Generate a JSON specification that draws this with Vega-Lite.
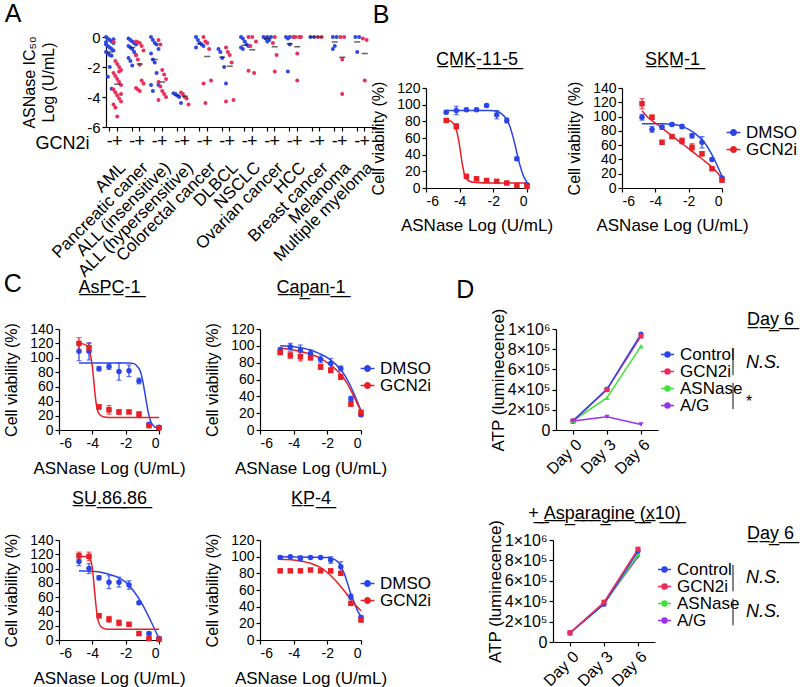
{
"$schema": "https://vega.github.io/schema/vega-lite/v6.json",
"background": "white",
"padding": {"left": 3, "top": 2, "right": 2, "bottom": 2},
"config": {
 "font": "Liberation Sans",
 "view": {"stroke": null},
 "axis": {"grid": false, "domainColor": "#000", "tickColor": "#000", "labelColor": "#000", "titleColor": "#000", "labelFontSize": 14, "titleFontSize": 16, "titleFontWeight": "normal", "tickSize": 4, "labelPadding": 2, "domainWidth": 1.2, "tickWidth": 1.2},
 "legend": {"labelFontSize": 17, "labelColor": "#000", "symbolOpacity": 1},
 "title": {"fontWeight": "normal", "color": "#000", "fontSize": 25}
},
"datasets": {
 "A": [
  {"c":"1-","g":"-","j":"a","v":0},{"c":"1-","g":"-","j":"b","v":-0.1},{"c":"1-","g":"-","j":"c","v":-0.2},{"c":"1-","g":"-","j":"d","v":-0.3},{"c":"1-","g":"-","j":"e","v":-0.4},{"c":"1-","g":"-","j":"a","v":-0.5},{"c":"1-","g":"-","j":"b","v":-0.6},{"c":"1-","g":"-","j":"c","v":-0.7},{"c":"1-","g":"-","j":"d","v":-0.8},{"c":"1-","g":"-","j":"e","v":-0.9},{"c":"1-","g":"-","j":"a","v":-1.0},{"c":"1-","g":"-","j":"b","v":-1.1},{"c":"1-","g":"-","j":"c","v":-1.2},{"c":"1-","g":"-","j":"d","v":-1.25},{"c":"1-","g":"-","j":"e","v":-0.15},{"c":"1-","g":"-","j":"a","v":-0.35},{"c":"1-","g":"-","j":"c","v":-2.0},{"c":"1-","g":"-","j":"b","v":-2.65},{"c":"1-","g":"-","j":"d","v":-3.45},
  {"c":"1+","g":"+","j":"a","v":-0.33},{"c":"1+","g":"+","j":"b","v":-1.6},{"c":"1+","g":"+","j":"c","v":-1.8},{"c":"1+","g":"+","j":"d","v":-2.0},{"c":"1+","g":"+","j":"e","v":-2.2},{"c":"1+","g":"+","j":"a","v":-2.4},{"c":"1+","g":"+","j":"b","v":-2.6},{"c":"1+","g":"+","j":"c","v":-2.8},{"c":"1+","g":"+","j":"d","v":-3.0},{"c":"1+","g":"+","j":"e","v":-3.2},{"c":"1+","g":"+","j":"a","v":-3.5},{"c":"1+","g":"+","j":"b","v":-3.7},{"c":"1+","g":"+","j":"c","v":-3.9},{"c":"1+","g":"+","j":"d","v":-4.1},{"c":"1+","g":"+","j":"e","v":-4.3},{"c":"1+","g":"+","j":"a","v":-4.5},{"c":"1+","g":"+","j":"b","v":-4.7},{"c":"1+","g":"+","j":"c","v":-5.3},{"c":"1+","g":"+","j":"d","v":-2.3},{"c":"1+","g":"+","j":"e","v":-3.8},
  {"c":"2-","g":"-","j":"a","v":-0.1},{"c":"2-","g":"-","j":"b","v":-0.2},{"c":"2-","g":"-","j":"c","v":-0.3},{"c":"2-","g":"-","j":"d","v":-0.4},{"c":"2-","g":"-","j":"e","v":-0.5},{"c":"2-","g":"-","j":"a","v":-0.6},{"c":"2-","g":"-","j":"b","v":-0.7},{"c":"2-","g":"-","j":"c","v":-0.8},{"c":"2-","g":"-","j":"d","v":-1.0},{"c":"2-","g":"-","j":"e","v":-1.2},{"c":"2-","g":"-","j":"a","v":-1.4},{"c":"2-","g":"-","j":"b","v":-1.6},{"c":"2-","g":"-","j":"c","v":-1.9},
  {"c":"2+","g":"+","j":"a","v":-0.3},{"c":"2+","g":"+","j":"b","v":-0.35},{"c":"2+","g":"+","j":"c","v":-0.4},{"c":"2+","g":"+","j":"d","v":-0.6},{"c":"2+","g":"+","j":"e","v":-0.9},{"c":"2+","g":"+","j":"a","v":-1.2},{"c":"2+","g":"+","j":"b","v":-1.5},{"c":"2+","g":"+","j":"c","v":-1.85},{"c":"2+","g":"+","j":"d","v":-2.9},{"c":"2+","g":"+","j":"e","v":-3.1},{"c":"2+","g":"+","j":"a","v":-3.4},{"c":"2+","g":"+","j":"b","v":-3.5},{"c":"2+","g":"+","j":"c","v":-3.6},
  {"c":"3-","g":"-","j":"a","v":0},{"c":"3-","g":"-","j":"b","v":-0.2},{"c":"3-","g":"-","j":"c","v":-0.4},{"c":"3-","g":"-","j":"d","v":-0.5},{"c":"3-","g":"-","j":"e","v":-0.8},{"c":"3-","g":"-","j":"a","v":-1.1},{"c":"3-","g":"-","j":"b","v":-1.5},{"c":"3-","g":"-","j":"c","v":-1.7},{"c":"3-","g":"-","j":"d","v":-2.4},{"c":"3-","g":"-","j":"e","v":-3.2},{"c":"3-","g":"-","j":"a","v":-3.2},{"c":"3-","g":"-","j":"b","v":-3.6},
  {"c":"3+","g":"+","j":"a","v":-0.2},{"c":"3+","g":"+","j":"b","v":-0.5},{"c":"3+","g":"+","j":"c","v":-2.2},{"c":"3+","g":"+","j":"d","v":-2.5},{"c":"3+","g":"+","j":"e","v":-2.8},{"c":"3+","g":"+","j":"a","v":-3.0},{"c":"3+","g":"+","j":"b","v":-3.3},{"c":"3+","g":"+","j":"c","v":-3.6},{"c":"3+","g":"+","j":"d","v":-3.8},{"c":"3+","g":"+","j":"e","v":-4.0},{"c":"3+","g":"+","j":"a","v":-4.2},
  {"c":"4-","g":"-","j":"a","v":-3.75},{"c":"4-","g":"-","j":"b","v":-3.8},{"c":"4-","g":"-","j":"c","v":-3.9},{"c":"4-","g":"-","j":"d","v":-4.0},{"c":"4-","g":"-","j":"e","v":-4.4},
  {"c":"4+","g":"+","j":"a","v":-3.7},{"c":"4+","g":"+","j":"b","v":-3.8},{"c":"4+","g":"+","j":"c","v":-4.0},{"c":"4+","g":"+","j":"d","v":-4.1},{"c":"4+","g":"+","j":"e","v":-4.5},
  {"c":"5-","g":"-","j":"a","v":0},{"c":"5-","g":"-","j":"b","v":-0.2},{"c":"5-","g":"-","j":"c","v":-0.4},{"c":"5-","g":"-","j":"d","v":-0.5},{"c":"5-","g":"-","j":"e","v":-0.6},{"c":"5-","g":"-","j":"a","v":-0.7},
  {"c":"5+","g":"+","j":"a","v":0},{"c":"5+","g":"+","j":"b","v":-0.3},{"c":"5+","g":"+","j":"c","v":-0.4},{"c":"5+","g":"+","j":"d","v":-0.8},{"c":"5+","g":"+","j":"e","v":-2.9},{"c":"5+","g":"+","j":"a","v":-3.1},{"c":"5+","g":"+","j":"b","v":-4.4},
  {"c":"6-","g":"-","j":"a","v":-0.8},{"c":"6-","g":"-","j":"b","v":-1.0},{"c":"6-","g":"-","j":"c","v":-1.4},{"c":"6-","g":"-","j":"d","v":-2.0},{"c":"6-","g":"-","j":"e","v":-3.1},
  {"c":"6+","g":"+","j":"a","v":-0.7},{"c":"6+","g":"+","j":"b","v":-1.0},{"c":"6+","g":"+","j":"c","v":-1.2},{"c":"6+","g":"+","j":"d","v":-1.7},{"c":"6+","g":"+","j":"e","v":-4.2},{"c":"6+","g":"+","j":"a","v":-4.3},
  {"c":"7-","g":"-","j":"a","v":0},{"c":"7-","g":"-","j":"b","v":-0.1},{"c":"7-","g":"-","j":"c","v":-0.3},{"c":"7-","g":"-","j":"d","v":-0.5},{"c":"7-","g":"-","j":"e","v":-0.6},{"c":"7-","g":"-","j":"a","v":-0.7},{"c":"7-","g":"-","j":"b","v":-0.8},
  {"c":"7+","g":"+","j":"a","v":0},{"c":"7+","g":"+","j":"c","v":0},{"c":"7+","g":"+","j":"e","v":-0.3},{"c":"7+","g":"+","j":"b","v":-0.6},{"c":"7+","g":"+","j":"a","v":-2.25},{"c":"7+","g":"+","j":"d","v":-2.4},
  {"c":"8-","g":"-","j":"a","v":0},{"c":"8-","g":"-","j":"c","v":0},{"c":"8-","g":"-","j":"e","v":0},{"c":"8-","g":"-","j":"b","v":-0.1},{"c":"8-","g":"-","j":"d","v":-0.2},{"c":"8-","g":"-","j":"c","v":-0.3},
  {"c":"8+","g":"+","j":"c","v":0},{"c":"8+","g":"+","j":"b","v":-0.4},{"c":"8+","g":"+","j":"d","v":-1.2},{"c":"8+","g":"+","j":"c","v":-2.3},
  {"c":"9-","g":"-","j":"a","v":0},{"c":"9-","g":"-","j":"c","v":0},{"c":"9-","g":"-","j":"e","v":0},{"c":"9-","g":"-","j":"b","v":-0.1},{"c":"9-","g":"-","j":"c","v":-0.5},{"c":"9-","g":"-","j":"b","v":-2.3},
  {"c":"9+","g":"+","j":"a","v":0},{"c":"9+","g":"+","j":"b","v":0},{"c":"9+","g":"+","j":"d","v":0},{"c":"9+","g":"+","j":"e","v":0},{"c":"9+","g":"+","j":"c","v":-1.1},{"c":"9+","g":"+","j":"c","v":-2.9},
  {"c":"10-","g":"-","j":"b","v":0},{"c":"10-","g":"-","j":"d","v":0},
  {"c":"10+","g":"+","j":"b","v":0},{"c":"10+","g":"+","j":"d","v":0},
  {"c":"11-","g":"-","j":"b","v":0},{"c":"11-","g":"-","j":"d","v":0},{"c":"11-","g":"-","j":"c","v":-0.6},{"c":"11-","g":"-","j":"b","v":-0.8},
  {"c":"11+","g":"+","j":"b","v":0},{"c":"11+","g":"+","j":"d","v":0},{"c":"11+","g":"+","j":"c","v":-1.5},{"c":"11+","g":"+","j":"c","v":-3.8},
  {"c":"12-","g":"-","j":"b","v":0},{"c":"12-","g":"-","j":"d","v":0},{"c":"12-","g":"-","j":"c","v":-1.0},
  {"c":"12+","g":"+","j":"b","v":-0.1},{"c":"12+","g":"+","j":"d","v":-0.2},{"c":"12+","g":"+","j":"c","v":-2.9}
 ],
 "Amed": [
  {"c":"1-","v":-1.0},{"c":"1+","v":-3.15},{"c":"2-","v":-0.7},{"c":"2+","v":-1.8},{"c":"3-","v":-1.5},{"c":"3+","v":-3.0},{"c":"4-","v":-3.9},{"c":"4+","v":-3.95},{"c":"5-","v":-0.45},{"c":"5+","v":-1.3},{"c":"6-","v":-1.35},{"c":"6+","v":-1.95},{"c":"7-","v":-0.55},{"c":"7+","v":-0.85},{"c":"8-","v":-0.1},{"c":"8+","v":-0.65},{"c":"9-","v":-0.45},{"c":"9+","v":-0.65},{"c":"10-","v":0},{"c":"10+","v":0},{"c":"11-","v":-0.33},{"c":"11+","v":-1.35},{"c":"12-","v":-0.33},{"c":"12+","v":-1.1}
 ],
 "viab": [
  {"cell":"CMK-11-5","g":"DMSO","x":-4.8,"v":91,"e":2},{"cell":"CMK-11-5","g":"DMSO","x":-4.2,"v":93,"e":5},{"cell":"CMK-11-5","g":"DMSO","x":-3.6,"v":94,"e":1.5},{"cell":"CMK-11-5","g":"DMSO","x":-3.0,"v":94,"e":1.5},{"cell":"CMK-11-5","g":"DMSO","x":-2.4,"v":99,"e":1.5},{"cell":"CMK-11-5","g":"DMSO","x":-1.8,"v":88,"e":5},{"cell":"CMK-11-5","g":"DMSO","x":-1.2,"v":81,"e":3},{"cell":"CMK-11-5","g":"DMSO","x":-0.6,"v":35,"e":2},{"cell":"CMK-11-5","g":"DMSO","x":0,"v":4,"e":1.5},
  {"cell":"CMK-11-5","g":"GCN2i","x":-4.8,"v":81,"e":2},{"cell":"CMK-11-5","g":"GCN2i","x":-4.2,"v":74,"e":3},{"cell":"CMK-11-5","g":"GCN2i","x":-3.6,"v":14,"e":2},{"cell":"CMK-11-5","g":"GCN2i","x":-3.0,"v":11,"e":2},{"cell":"CMK-11-5","g":"GCN2i","x":-2.4,"v":9,"e":1.5},{"cell":"CMK-11-5","g":"GCN2i","x":-1.8,"v":8,"e":1.5},{"cell":"CMK-11-5","g":"GCN2i","x":-1.2,"v":6,"e":1.5},{"cell":"CMK-11-5","g":"GCN2i","x":-0.6,"v":3,"e":1.5},{"cell":"CMK-11-5","g":"GCN2i","x":0,"v":2,"e":1.5},
  {"cell":"SKM-1","g":"DMSO","x":-4.8,"v":99,"e":4},{"cell":"SKM-1","g":"DMSO","x":-4.2,"v":82,"e":4},{"cell":"SKM-1","g":"DMSO","x":-3.6,"v":85,"e":3},{"cell":"SKM-1","g":"DMSO","x":-3.0,"v":89,"e":2},{"cell":"SKM-1","g":"DMSO","x":-2.4,"v":86,"e":3},{"cell":"SKM-1","g":"DMSO","x":-1.8,"v":73,"e":3},{"cell":"SKM-1","g":"DMSO","x":-1.2,"v":64,"e":8},{"cell":"SKM-1","g":"DMSO","x":-0.6,"v":40,"e":2},{"cell":"SKM-1","g":"DMSO","x":0,"v":14,"e":2},
  {"cell":"SKM-1","g":"GCN2i","x":-4.8,"v":118,"e":7},{"cell":"SKM-1","g":"GCN2i","x":-4.2,"v":99,"e":3},{"cell":"SKM-1","g":"GCN2i","x":-3.6,"v":64,"e":2},{"cell":"SKM-1","g":"GCN2i","x":-3.0,"v":72,"e":2},{"cell":"SKM-1","g":"GCN2i","x":-2.4,"v":66,"e":4},{"cell":"SKM-1","g":"GCN2i","x":-1.8,"v":57,"e":5},{"cell":"SKM-1","g":"GCN2i","x":-1.2,"v":48,"e":3},{"cell":"SKM-1","g":"GCN2i","x":-0.6,"v":27,"e":2},{"cell":"SKM-1","g":"GCN2i","x":0,"v":11,"e":2},
  {"cell":"AsPC-1","g":"DMSO","x":-4.8,"v":109,"e":13},{"cell":"AsPC-1","g":"DMSO","x":-4.2,"v":109,"e":12},{"cell":"AsPC-1","g":"DMSO","x":-3.6,"v":85,"e":3},{"cell":"AsPC-1","g":"DMSO","x":-3.0,"v":88,"e":4},{"cell":"AsPC-1","g":"DMSO","x":-2.4,"v":81,"e":12},{"cell":"AsPC-1","g":"DMSO","x":-1.8,"v":82,"e":8},{"cell":"AsPC-1","g":"DMSO","x":-1.2,"v":68,"e":4},{"cell":"AsPC-1","g":"DMSO","x":-0.6,"v":8,"e":2},{"cell":"AsPC-1","g":"DMSO","x":0,"v":4,"e":2},
  {"cell":"AsPC-1","g":"GCN2i","x":-4.8,"v":120,"e":8},{"cell":"AsPC-1","g":"GCN2i","x":-4.2,"v":114,"e":6},{"cell":"AsPC-1","g":"GCN2i","x":-3.6,"v":32,"e":3},{"cell":"AsPC-1","g":"GCN2i","x":-3.0,"v":28,"e":6},{"cell":"AsPC-1","g":"GCN2i","x":-2.4,"v":25,"e":3},{"cell":"AsPC-1","g":"GCN2i","x":-1.8,"v":25,"e":2},{"cell":"AsPC-1","g":"GCN2i","x":-1.2,"v":22,"e":3},{"cell":"AsPC-1","g":"GCN2i","x":-0.6,"v":6,"e":2},{"cell":"AsPC-1","g":"GCN2i","x":0,"v":3,"e":2},
  {"cell":"Capan-1","g":"DMSO","x":-4.8,"v":95,"e":3},{"cell":"Capan-1","g":"DMSO","x":-4.2,"v":99,"e":4},{"cell":"Capan-1","g":"DMSO","x":-3.6,"v":95,"e":6},{"cell":"Capan-1","g":"DMSO","x":-3.0,"v":91,"e":4},{"cell":"Capan-1","g":"DMSO","x":-2.4,"v":84,"e":4},{"cell":"Capan-1","g":"DMSO","x":-1.8,"v":79,"e":6},{"cell":"Capan-1","g":"DMSO","x":-1.2,"v":73,"e":3},{"cell":"Capan-1","g":"DMSO","x":-0.6,"v":37,"e":3},{"cell":"Capan-1","g":"DMSO","x":0,"v":18,"e":2},
  {"cell":"Capan-1","g":"GCN2i","x":-4.8,"v":92,"e":2},{"cell":"Capan-1","g":"GCN2i","x":-4.2,"v":89,"e":4},{"cell":"Capan-1","g":"GCN2i","x":-3.6,"v":87,"e":5},{"cell":"Capan-1","g":"GCN2i","x":-3.0,"v":86,"e":3},{"cell":"Capan-1","g":"GCN2i","x":-2.4,"v":75,"e":3},{"cell":"Capan-1","g":"GCN2i","x":-1.8,"v":71,"e":3},{"cell":"Capan-1","g":"GCN2i","x":-1.2,"v":63,"e":3},{"cell":"Capan-1","g":"GCN2i","x":-0.6,"v":31,"e":3},{"cell":"Capan-1","g":"GCN2i","x":0,"v":21,"e":2},
  {"cell":"SU.86.86","g":"DMSO","x":-4.8,"v":110,"e":6},{"cell":"SU.86.86","g":"DMSO","x":-4.2,"v":100,"e":7},{"cell":"SU.86.86","g":"DMSO","x":-3.6,"v":87,"e":3},{"cell":"SU.86.86","g":"DMSO","x":-3.0,"v":81,"e":9},{"cell":"SU.86.86","g":"DMSO","x":-2.4,"v":81,"e":7},{"cell":"SU.86.86","g":"DMSO","x":-1.8,"v":77,"e":6},{"cell":"SU.86.86","g":"DMSO","x":-1.2,"v":52,"e":2},{"cell":"SU.86.86","g":"DMSO","x":-0.6,"v":9,"e":2},{"cell":"SU.86.86","g":"DMSO","x":0,"v":2,"e":2},
  {"cell":"SU.86.86","g":"GCN2i","x":-4.8,"v":118,"e":5},{"cell":"SU.86.86","g":"GCN2i","x":-4.2,"v":117,"e":6},{"cell":"SU.86.86","g":"GCN2i","x":-3.6,"v":34,"e":3},{"cell":"SU.86.86","g":"GCN2i","x":-3.0,"v":29,"e":4},{"cell":"SU.86.86","g":"GCN2i","x":-2.4,"v":24,"e":4},{"cell":"SU.86.86","g":"GCN2i","x":-1.8,"v":22,"e":2},{"cell":"SU.86.86","g":"GCN2i","x":-1.2,"v":9,"e":2},{"cell":"SU.86.86","g":"GCN2i","x":-0.6,"v":2,"e":1},{"cell":"SU.86.86","g":"GCN2i","x":0,"v":1,"e":1},
  {"cell":"KP-4","g":"DMSO","x":-4.8,"v":99,"e":2},{"cell":"KP-4","g":"DMSO","x":-4.2,"v":100,"e":1},{"cell":"KP-4","g":"DMSO","x":-3.6,"v":98,"e":3},{"cell":"KP-4","g":"DMSO","x":-3.0,"v":99,"e":1},{"cell":"KP-4","g":"DMSO","x":-2.4,"v":99,"e":1},{"cell":"KP-4","g":"DMSO","x":-1.8,"v":96,"e":4},{"cell":"KP-4","g":"DMSO","x":-1.2,"v":88,"e":6},{"cell":"KP-4","g":"DMSO","x":-0.6,"v":52,"e":3},{"cell":"KP-4","g":"DMSO","x":0,"v":27,"e":2},
  {"cell":"KP-4","g":"GCN2i","x":-4.8,"v":83,"e":1},{"cell":"KP-4","g":"GCN2i","x":-4.2,"v":83,"e":1},{"cell":"KP-4","g":"GCN2i","x":-3.6,"v":83,"e":1},{"cell":"KP-4","g":"GCN2i","x":-3.0,"v":84,"e":1},{"cell":"KP-4","g":"GCN2i","x":-2.4,"v":83,"e":1},{"cell":"KP-4","g":"GCN2i","x":-1.8,"v":83,"e":2},{"cell":"KP-4","g":"GCN2i","x":-1.2,"v":80,"e":2},{"cell":"KP-4","g":"GCN2i","x":-0.6,"v":44,"e":2},{"cell":"KP-4","g":"GCN2i","x":0,"v":24,"e":2}
 ],
 "fit": [
  {"cell":"CMK-11-5","g":"DMSO","x":-4.8,"v":93},{"cell":"CMK-11-5","g":"DMSO","x":-2.2,"v":93},{"cell":"CMK-11-5","g":"DMSO","x":-1.8,"v":92},{"cell":"CMK-11-5","g":"DMSO","x":-1.5,"v":89},{"cell":"CMK-11-5","g":"DMSO","x":-1.2,"v":82},{"cell":"CMK-11-5","g":"DMSO","x":-1.0,"v":73},{"cell":"CMK-11-5","g":"DMSO","x":-0.8,"v":59},{"cell":"CMK-11-5","g":"DMSO","x":-0.6,"v":42},{"cell":"CMK-11-5","g":"DMSO","x":-0.4,"v":26},{"cell":"CMK-11-5","g":"DMSO","x":-0.2,"v":14},{"cell":"CMK-11-5","g":"DMSO","x":0,"v":7},
  {"cell":"CMK-11-5","g":"GCN2i","x":-4.8,"v":82},{"cell":"CMK-11-5","g":"GCN2i","x":-4.5,"v":80},{"cell":"CMK-11-5","g":"GCN2i","x":-4.3,"v":75},{"cell":"CMK-11-5","g":"GCN2i","x":-4.15,"v":66},{"cell":"CMK-11-5","g":"GCN2i","x":-4.0,"v":50},{"cell":"CMK-11-5","g":"GCN2i","x":-3.9,"v":36},{"cell":"CMK-11-5","g":"GCN2i","x":-3.8,"v":24},{"cell":"CMK-11-5","g":"GCN2i","x":-3.7,"v":15},{"cell":"CMK-11-5","g":"GCN2i","x":-3.5,"v":9},{"cell":"CMK-11-5","g":"GCN2i","x":-3.2,"v":7},{"cell":"CMK-11-5","g":"GCN2i","x":-2,"v":6},{"cell":"CMK-11-5","g":"GCN2i","x":0,"v":6},
  {"cell":"SKM-1","g":"DMSO","x":-4.8,"v":90},{"cell":"SKM-1","g":"DMSO","x":-3.5,"v":90},{"cell":"SKM-1","g":"DMSO","x":-3,"v":89},{"cell":"SKM-1","g":"DMSO","x":-2.5,"v":87},{"cell":"SKM-1","g":"DMSO","x":-2,"v":82},{"cell":"SKM-1","g":"DMSO","x":-1.5,"v":74},{"cell":"SKM-1","g":"DMSO","x":-1,"v":62},{"cell":"SKM-1","g":"DMSO","x":-0.5,"v":42},{"cell":"SKM-1","g":"DMSO","x":0,"v":16},
  {"cell":"SKM-1","g":"GCN2i","x":-4.8,"v":108},{"cell":"SKM-1","g":"GCN2i","x":-4.4,"v":98},{"cell":"SKM-1","g":"GCN2i","x":-4,"v":91},{"cell":"SKM-1","g":"GCN2i","x":-3.5,"v":82},{"cell":"SKM-1","g":"GCN2i","x":-3,"v":73},{"cell":"SKM-1","g":"GCN2i","x":-2.5,"v":64},{"cell":"SKM-1","g":"GCN2i","x":-2,"v":55},{"cell":"SKM-1","g":"GCN2i","x":-1.5,"v":46},{"cell":"SKM-1","g":"GCN2i","x":-1,"v":37},{"cell":"SKM-1","g":"GCN2i","x":-0.5,"v":27},{"cell":"SKM-1","g":"GCN2i","x":0,"v":14},
  {"cell":"AsPC-1","g":"DMSO","x":-4.8,"v":93},{"cell":"AsPC-1","g":"DMSO","x":-1.8,"v":93},{"cell":"AsPC-1","g":"DMSO","x":-1.5,"v":92},{"cell":"AsPC-1","g":"DMSO","x":-1.3,"v":88},{"cell":"AsPC-1","g":"DMSO","x":-1.1,"v":80},{"cell":"AsPC-1","g":"DMSO","x":-0.95,"v":65},{"cell":"AsPC-1","g":"DMSO","x":-0.8,"v":45},{"cell":"AsPC-1","g":"DMSO","x":-0.65,"v":25},{"cell":"AsPC-1","g":"DMSO","x":-0.5,"v":12},{"cell":"AsPC-1","g":"DMSO","x":-0.25,"v":4},{"cell":"AsPC-1","g":"DMSO","x":0,"v":2},
  {"cell":"AsPC-1","g":"GCN2i","x":-4.8,"v":120},{"cell":"AsPC-1","g":"GCN2i","x":-4.5,"v":119},{"cell":"AsPC-1","g":"GCN2i","x":-4.3,"v":116},{"cell":"AsPC-1","g":"GCN2i","x":-4.15,"v":108},{"cell":"AsPC-1","g":"GCN2i","x":-4.0,"v":88},{"cell":"AsPC-1","g":"GCN2i","x":-3.9,"v":65},{"cell":"AsPC-1","g":"GCN2i","x":-3.8,"v":42},{"cell":"AsPC-1","g":"GCN2i","x":-3.7,"v":28},{"cell":"AsPC-1","g":"GCN2i","x":-3.55,"v":21},{"cell":"AsPC-1","g":"GCN2i","x":-3.3,"v":18},{"cell":"AsPC-1","g":"GCN2i","x":-3,"v":17.5},{"cell":"AsPC-1","g":"GCN2i","x":0,"v":17.5},
  {"cell":"Capan-1","g":"DMSO","x":-4.8,"v":100},{"cell":"Capan-1","g":"DMSO","x":-4,"v":99},{"cell":"Capan-1","g":"DMSO","x":-3,"v":95},{"cell":"Capan-1","g":"DMSO","x":-2.5,"v":91},{"cell":"Capan-1","g":"DMSO","x":-2,"v":86},{"cell":"Capan-1","g":"DMSO","x":-1.5,"v":78},{"cell":"Capan-1","g":"DMSO","x":-1,"v":66},{"cell":"Capan-1","g":"DMSO","x":-0.5,"v":47},{"cell":"Capan-1","g":"DMSO","x":0,"v":23},
  {"cell":"Capan-1","g":"GCN2i","x":-4.8,"v":97},{"cell":"Capan-1","g":"GCN2i","x":-4,"v":95},{"cell":"Capan-1","g":"GCN2i","x":-3,"v":90},{"cell":"Capan-1","g":"GCN2i","x":-2.5,"v":86},{"cell":"Capan-1","g":"GCN2i","x":-2,"v":80},{"cell":"Capan-1","g":"GCN2i","x":-1.5,"v":72},{"cell":"Capan-1","g":"GCN2i","x":-1,"v":61},{"cell":"Capan-1","g":"GCN2i","x":-0.5,"v":43},{"cell":"Capan-1","g":"GCN2i","x":0,"v":22},
  {"cell":"SU.86.86","g":"DMSO","x":-4.8,"v":97},{"cell":"SU.86.86","g":"DMSO","x":-4,"v":96},{"cell":"SU.86.86","g":"DMSO","x":-3.5,"v":95},{"cell":"SU.86.86","g":"DMSO","x":-3,"v":92},{"cell":"SU.86.86","g":"DMSO","x":-2.5,"v":88},{"cell":"SU.86.86","g":"DMSO","x":-2,"v":81},{"cell":"SU.86.86","g":"DMSO","x":-1.5,"v":68},{"cell":"SU.86.86","g":"DMSO","x":-1,"v":50},{"cell":"SU.86.86","g":"DMSO","x":-0.5,"v":27},{"cell":"SU.86.86","g":"DMSO","x":0,"v":2},
  {"cell":"SU.86.86","g":"GCN2i","x":-4.8,"v":117},{"cell":"SU.86.86","g":"GCN2i","x":-4.4,"v":117},{"cell":"SU.86.86","g":"GCN2i","x":-4.2,"v":115},{"cell":"SU.86.86","g":"GCN2i","x":-4.05,"v":108},{"cell":"SU.86.86","g":"GCN2i","x":-3.95,"v":90},{"cell":"SU.86.86","g":"GCN2i","x":-3.85,"v":65},{"cell":"SU.86.86","g":"GCN2i","x":-3.75,"v":42},{"cell":"SU.86.86","g":"GCN2i","x":-3.65,"v":27},{"cell":"SU.86.86","g":"GCN2i","x":-3.5,"v":19},{"cell":"SU.86.86","g":"GCN2i","x":-3.2,"v":15.5},{"cell":"SU.86.86","g":"GCN2i","x":-3,"v":15},{"cell":"SU.86.86","g":"GCN2i","x":0,"v":15},
  {"cell":"KP-4","g":"DMSO","x":-4.8,"v":100},{"cell":"KP-4","g":"DMSO","x":-2,"v":99},{"cell":"KP-4","g":"DMSO","x":-1.6,"v":97},{"cell":"KP-4","g":"DMSO","x":-1.3,"v":92},{"cell":"KP-4","g":"DMSO","x":-1.0,"v":80},{"cell":"KP-4","g":"DMSO","x":-0.8,"v":68},{"cell":"KP-4","g":"DMSO","x":-0.6,"v":55},{"cell":"KP-4","g":"DMSO","x":-0.4,"v":45},{"cell":"KP-4","g":"DMSO","x":-0.2,"v":35},{"cell":"KP-4","g":"DMSO","x":0,"v":28},
  {"cell":"KP-4","g":"GCN2i","x":-4.8,"v":97},{"cell":"KP-4","g":"GCN2i","x":-4,"v":96},{"cell":"KP-4","g":"GCN2i","x":-3,"v":92},{"cell":"KP-4","g":"GCN2i","x":-2.5,"v":88},{"cell":"KP-4","g":"GCN2i","x":-2,"v":81},{"cell":"KP-4","g":"GCN2i","x":-1.5,"v":71},{"cell":"KP-4","g":"GCN2i","x":-1,"v":59},{"cell":"KP-4","g":"GCN2i","x":-0.5,"v":46},{"cell":"KP-4","g":"GCN2i","x":0,"v":35}
 ],
 "atp": [
  {"p":"D1","cond":"A/G","day":"Day 0","v":88000},{"p":"D1","cond":"A/G","day":"Day 3","v":130000},{"p":"D1","cond":"A/G","day":"Day 6","v":55000},
  {"p":"D1","cond":"ASNase","day":"Day 0","v":90000},{"p":"D1","cond":"ASNase","day":"Day 3","v":320000},{"p":"D1","cond":"ASNase","day":"Day 6","v":830000},
  {"p":"D1","cond":"GCN2i","day":"Day 0","v":88000},{"p":"D1","cond":"GCN2i","day":"Day 3","v":400000},{"p":"D1","cond":"GCN2i","day":"Day 6","v":930000},
  {"p":"D1","cond":"Control","day":"Day 0","v":90000},{"p":"D1","cond":"Control","day":"Day 3","v":405000},{"p":"D1","cond":"Control","day":"Day 6","v":950000},
  {"p":"D2","cond":"A/G","day":"Day 0","v":90000},{"p":"D2","cond":"A/G","day":"Day 3","v":380000},{"p":"D2","cond":"A/G","day":"Day 6","v":835000},
  {"p":"D2","cond":"ASNase","day":"Day 0","v":88000},{"p":"D2","cond":"ASNase","day":"Day 3","v":375000},{"p":"D2","cond":"ASNase","day":"Day 6","v":855000},
  {"p":"D2","cond":"Control","day":"Day 0","v":88000},{"p":"D2","cond":"Control","day":"Day 3","v":370000},{"p":"D2","cond":"Control","day":"Day 6","v":890000},
  {"p":"D2","cond":"GCN2i","day":"Day 0","v":90000},{"p":"D2","cond":"GCN2i","day":"Day 3","v":390000},{"p":"D2","cond":"GCN2i","day":"Day 6","v":910000}
 ],
 "sig1": [{"from":"Control","to":"GCN2i","sig":"N.S."},{"from":"ASNase","to":"A/G","sig":"*"}],
 "sig2": [{"from":"Control","to":"GCN2i","sig":"N.S."},{"from":"ASNase","to":"A/G","sig":"N.S."}]
},
"resolve": {"scale": {"color": "independent", "shape": "independent"}},
"spacing": -8,
"vconcat": [
 {"resolve": {"scale": {"color": "independent", "shape": "independent"}},
  "spacing": -11,
  "hconcat": [
  {"title": {"text": "A", "anchor": "start", "frame": "bounds", "dx": -17, "offset": 3},
   "width": 300, "height": 39,
   "layer": [
    {"data": {"name": "A"},
     "mark": {"type": "circle", "size": 16, "opacity": 1},
     "encoding": {
      "x": {"field": "c", "type": "nominal", "sort": null,
        "scale": {"domain": ["1-","1+","1g","2-","2+","2g","3-","3+","3g","4-","4+","4g","5-","5+","5g","6-","6+","6g","7-","7+","7g","8-","8+","8g","9-","9+","9g","10-","10+","10g","11-","11+","11g","12-","12+","12g"], "paddingInner": 0, "paddingOuter": 0, "range": [25, 295]},
        "axis": {"orient": "bottom", "values": ["1-","1+","2-","2+","3-","3+","4-","4+","5-","5+","6-","6+","7-","7+","8-","8+","9-","9+","10-","10+","11-","11+","12-","12+"], "labelExpr": "slice(datum.value, -1)", "labelAngle": 0, "labelFontSize": 18, "labelPadding": 1, "labelOverlap": false, "title": "GCN2i", "titleFontSize": 18, "titleAngle": 0, "titleAlign": "left", "titleBaseline": "middle", "titleX": -46, "titleY": 16}},
      "xOffset": {"field": "j", "type": "nominal", "scale": {"domain": ["a","b","c","d","e"], "paddingInner": 0, "paddingOuter": 0}},
      "y": {"field": "v", "type": "quantitative", "scale": {"domain": [-6, 0], "nice": false, "range": [39, -51]},
        "axis": {"values": [0, -2, -4, -6], "labelExpr": "'' + datum.value", "labelFontSize": 15, "title": ["ASNase IC₅₀", "Log (U/mL)"], "titleFontSize": 16, "titleLineHeight": 19, "titlePadding": 30, "offset": -25}},
      "color": {"field": "g", "type": "nominal", "scale": {"domain": ["-","+"], "range": ["#2f47e3","#e8305a"]}, "legend": null}
     }},
    {"data": {"name": "Amed"},
     "mark": {"type": "tick", "color": "#222", "thickness": 1.5, "size": 6},
     "encoding": {
      "x": {"field": "c", "type": "nominal", "sort": null,
        "axis": {"orient": "bottom", "values": ["1+","2+","3+","4+","5+","6+","7+","8+","9+","10+","11+","12+"], "labelExpr": "split('AML|Pancreatic caner|ALL (insensitive)|ALL (hypersensitive)|Colorectal cancer|DLBCL|NSCLC|Ovarian cancer|HCC|Breast cancer|Melanoma|Multiple myeloma', '|')[toNumber(slice(datum.value, 0, -1)) - 1]", "labelAngle": -45, "labelFontSize": 17, "labelOverlap": false, "domain": false, "ticks": false, "offset": 32, "labelPadding": 0, "title": null}},
      "y": {"field": "v", "type": "quantitative",
        "axis": {"values": [0, -2, -4, -6], "labelExpr": "'' + datum.value", "labelFontSize": 15, "title": ["ASNase IC₅₀", "Log (U/mL)"], "titleFontSize": 16, "titleLineHeight": 19, "titlePadding": 30, "offset": -25}}
     }}
   ],
   "resolve": {"axis": {"x": "independent"}}
  },
  {"title": {"text": "B", "anchor": "start", "frame": "bounds", "dx": 2, "offset": 22},
   "spacing": 13,
   "resolve": {"scale": {"color": "independent", "shape": "independent"}},
   "hconcat": [
    {"width": 101, "height": 100,
     "layer": [
      {"data": {"name": "fit"}, "transform": [{"filter": "datum.cell === 'CMK-11-5'"}],
       "mark": {"type": "line", "strokeWidth": 1.5, "interpolate": "monotone"},
       "encoding": {
        "x": {"field": "x", "type": "quantitative", "scale": {"domain": [-6, 0], "nice": false}, "axis": {"orient": "bottom", "values": [-6, -4, -2, 0], "labelExpr": "'' + datum.value", "title": "ASNase Log (U/mL)", "titleFontSize": 17, "titlePadding": 9}},
        "y": {"field": "v", "type": "quantitative", "scale": {"domain": [0, 120], "nice": false}, "axis": {"values": [0, 20, 40, 60, 80, 100, 120], "title": "Cell viability (%)", "titlePadding": 10}},
        "color": {"field": "g", "type": "nominal", "scale": {"domain": ["DMSO", "GCN2i"], "range": ["#2a44e6", "#e62026"]}, "legend": null}
       }},
      {"data": {"name": "viab"}, "transform": [{"filter": "datum.cell === 'CMK-11-5'"}],
       "mark": {"type": "errorbar", "ticks": true, "thickness": 1.2},
       "encoding": {
        "x": {"field": "x", "type": "quantitative", "axis": null},
        "y": {"field": "v", "type": "quantitative", "axis": {"values": [0, 20, 40, 60, 80, 100, 120], "title": "Cell viability (%)", "titlePadding": 10}},
        "yError": {"field": "e"},
        "color": {"field": "g", "type": "nominal", "legend": null}
       }},
      {"data": {"name": "viab"}, "transform": [{"filter": "datum.cell === 'CMK-11-5'"}],
       "mark": {"type": "point", "filled": true, "size": 30, "opacity": 1},
       "encoding": {
        "x": {"field": "x", "type": "quantitative", "axis": {"orient": "top", "title": "C̲M̲K̲-̲1̲1̲-̲5̲", "labels": false, "ticks": false, "domain": false, "titlePadding": 20, "titleFontSize": 18, "minExtent": 0}},
        "y": {"field": "v", "type": "quantitative", "axis": {"values": [0, 20, 40, 60, 80, 100, 120], "title": "Cell viability (%)", "titlePadding": 10}},
        "color": {"field": "g", "type": "nominal", "legend": null},
        "shape": {"field": "g", "type": "nominal", "scale": {"domain": ["DMSO", "GCN2i"], "range": ["circle", "square"]}, "legend": null}
       }}
     ],
     "resolve": {"axis": {"x": "independent"}}
    },
    {"width": 100, "height": 100,
     "layer": [
      {"data": {"name": "fit"}, "transform": [{"filter": "datum.cell === 'SKM-1'"}],
       "mark": {"type": "line", "strokeWidth": 1.5, "interpolate": "monotone"},
       "encoding": {
        "x": {"field": "x", "type": "quantitative", "scale": {"domain": [-6, 0], "nice": false}, "axis": {"orient": "bottom", "values": [-6, -4, -2, 0], "labelExpr": "'' + datum.value", "title": "ASNase Log (U/mL)", "titleFontSize": 17, "titlePadding": 9}},
        "y": {"field": "v", "type": "quantitative", "scale": {"domain": [0, 140], "nice": false}, "axis": {"values": [0, 20, 40, 60, 80, 100, 120, 140], "title": "Cell viability (%)", "titlePadding": 10}},
        "color": {"field": "g", "type": "nominal", "scale": {"domain": ["DMSO", "GCN2i"], "range": ["#2a44e6", "#e62026"]}}
       }},
      {"data": {"name": "viab"}, "transform": [{"filter": "datum.cell === 'SKM-1'"}],
       "mark": {"type": "errorbar", "ticks": true, "thickness": 1.2},
       "encoding": {
        "x": {"field": "x", "type": "quantitative", "axis": null},
        "y": {"field": "v", "type": "quantitative", "axis": {"values": [0, 20, 40, 60, 80, 100, 120, 140], "title": "Cell viability (%)", "titlePadding": 10}},
        "yError": {"field": "e"},
        "color": {"field": "g", "type": "nominal"}
       }},
      {"data": {"name": "viab"}, "transform": [{"filter": "datum.cell === 'SKM-1' && datum.g === 'DMSO'"}],
       "mark": {"type": "point", "filled": true, "size": 30, "opacity": 1, "shape": "circle"},
       "encoding": {
        "x": {"field": "x", "type": "quantitative", "axis": {"orient": "top", "title": "S̲K̲M̲-̲1̲", "labels": false, "ticks": false, "domain": false, "titlePadding": 20, "titleFontSize": 18, "minExtent": 0}},
        "y": {"field": "v", "type": "quantitative", "axis": {"values": [0, 20, 40, 60, 80, 100, 120, 140], "title": "Cell viability (%)", "titlePadding": 10}},
        "color": {"field": "g", "type": "nominal", "legend": {"orient": "none", "legendX": 103, "legendY": 36, "title": null, "symbolSize": 190, "rowPadding": -3, "labelOffset": 4, "symbolType": "M-1,0H1M0.4,0A0.4,0.4,0,1,1,-0.4,0A0.4,0.4,0,1,1,0.4,0Z", "symbolStrokeWidth": 1.5, "symbolOpacity": 1}}
       }},
      {"data": {"name": "viab"}, "transform": [{"filter": "datum.cell === 'SKM-1' && datum.g === 'GCN2i'"}],
       "mark": {"type": "point", "filled": true, "size": 30, "opacity": 1, "shape": "square"},
       "encoding": {
        "x": {"field": "x", "type": "quantitative", "axis": null},
        "y": {"field": "v", "type": "quantitative", "axis": {"values": [0, 20, 40, 60, 80, 100, 120, 140], "title": "Cell viability (%)", "titlePadding": 10}},
        "color": {"field": "g", "type": "nominal"}
       }}
     ],
     "resolve": {"axis": {"x": "independent"}}
    }
   ]}
 ]},
 {"spacing": 12,
  "resolve": {"scale": {"color": "independent", "shape": "independent"}},
  "vconcat": [
 {"resolve": {"scale": {"color": "independent", "shape": "independent"}},
  "spacing": 24,
  "hconcat": [
  {"title": {"text": "C", "anchor": "start", "frame": "bounds", "dx": 0, "offset": -19},
   "spacing": 18,
   "resolve": {"scale": {"color": "independent", "shape": "independent"}},
   "hconcat": [
    {"width": 78, "height": 101,
     "layer": [
      {"data": {"name": "fit"}, "transform": [{"filter": "datum.cell === 'AsPC-1'"}],
       "mark": {"type": "line", "strokeWidth": 1.5, "interpolate": "monotone"},
       "encoding": {
        "x": {"field": "x", "type": "quantitative", "scale": {"domain": [-6, 0], "nice": false, "range": [-22, 78]}, "axis": {"orient": "bottom", "values": [-6, -4, -2, 0], "labelExpr": "'' + datum.value", "title": "ASNase Log (U/mL)", "titleFontSize": 17, "titlePadding": 10}},
        "y": {"field": "v", "type": "quantitative", "scale": {"domain": [0, 140], "nice": false}, "axis": {"values": [0, 20, 40, 60, 80, 100, 120, 140], "title": "Cell viability (%)", "titlePadding": 10, "offset": 22}},
        "color": {"field": "g", "type": "nominal", "scale": {"domain": ["DMSO", "GCN2i"], "range": ["#2a44e6", "#e62026"]}, "legend": null}
       }},
      {"data": {"name": "viab"}, "transform": [{"filter": "datum.cell === 'AsPC-1'"}],
       "mark": {"type": "errorbar", "ticks": true, "thickness": 1.2},
       "encoding": {
        "x": {"field": "x", "type": "quantitative", "axis": null},
        "y": {"field": "v", "type": "quantitative", "axis": {"values": [0, 20, 40, 60, 80, 100, 120, 140], "title": "Cell viability (%)", "titlePadding": 10, "offset": 22}},
        "yError": {"field": "e"},
        "color": {"field": "g", "type": "nominal", "legend": null}
       }},
      {"data": {"name": "viab"}, "transform": [{"filter": "datum.cell === 'AsPC-1'"}],
       "mark": {"type": "point", "filled": true, "size": 30, "opacity": 1},
       "encoding": {
        "x": {"field": "x", "type": "quantitative", "axis": {"orient": "top", "title": "A̲s̲P̲C̲-̲1̲", "labels": false, "ticks": false, "domain": false, "titlePadding": 33, "titleFontSize": 18, "minExtent": 0}},
        "y": {"field": "v", "type": "quantitative", "axis": {"values": [0, 20, 40, 60, 80, 100, 120, 140], "title": "Cell viability (%)", "titlePadding": 10, "offset": 22}},
        "color": {"field": "g", "type": "nominal", "legend": null},
        "shape": {"field": "g", "type": "nominal", "scale": {"domain": ["DMSO", "GCN2i"], "range": ["circle", "square"]}, "legend": null}
       }}
     ],
     "resolve": {"axis": {"x": "independent"}}
    },
    {"width": 101, "height": 101,
     "layer": [
      {"data": {"name": "fit"}, "transform": [{"filter": "datum.cell === 'Capan-1'"}],
       "mark": {"type": "line", "strokeWidth": 1.5, "interpolate": "monotone"},
       "encoding": {
        "x": {"field": "x", "type": "quantitative", "scale": {"domain": [-6, 0], "nice": false}, "axis": {"orient": "bottom", "values": [-6, -4, -2, 0], "labelExpr": "'' + datum.value", "title": "ASNase Log (U/mL)", "titleFontSize": 17, "titlePadding": 10}},
        "y": {"field": "v", "type": "quantitative", "scale": {"domain": [0, 120], "nice": false}, "axis": {"values": [0, 20, 40, 60, 80, 100, 120], "title": "Cell viability (%)", "titlePadding": 10}},
        "color": {"field": "g", "type": "nominal", "scale": {"domain": ["DMSO", "GCN2i"], "range": ["#2a44e6", "#e62026"]}}
       }},
      {"data": {"name": "viab"}, "transform": [{"filter": "datum.cell === 'Capan-1'"}],
       "mark": {"type": "errorbar", "ticks": true, "thickness": 1.2},
       "encoding": {
        "x": {"field": "x", "type": "quantitative", "axis": null},
        "y": {"field": "v", "type": "quantitative", "axis": {"values": [0, 20, 40, 60, 80, 100, 120], "title": "Cell viability (%)", "titlePadding": 10}},
        "yError": {"field": "e"},
        "color": {"field": "g", "type": "nominal"}
       }},
      {"data": {"name": "viab"}, "transform": [{"filter": "datum.cell === 'Capan-1' && datum.g === 'DMSO'"}],
       "mark": {"type": "point", "filled": true, "size": 30, "opacity": 1, "shape": "circle"},
       "encoding": {
        "x": {"field": "x", "type": "quantitative", "axis": {"orient": "top", "title": "C̲a̲p̲a̲n̲-̲1̲", "labels": false, "ticks": false, "domain": false, "titlePadding": 33, "titleFontSize": 18, "minExtent": 0}},
        "y": {"field": "v", "type": "quantitative", "axis": {"values": [0, 20, 40, 60, 80, 100, 120], "title": "Cell viability (%)", "titlePadding": 10}},
        "color": {"field": "g", "type": "nominal", "legend": {"orient": "none", "legendX": 99, "legendY": 31, "title": null, "symbolSize": 190, "rowPadding": -3, "labelOffset": 4, "symbolType": "M-1,0H1M0.4,0A0.4,0.4,0,1,1,-0.4,0A0.4,0.4,0,1,1,0.4,0Z", "symbolStrokeWidth": 1.5, "symbolOpacity": 1}}
       }},
      {"data": {"name": "viab"}, "transform": [{"filter": "datum.cell === 'Capan-1' && datum.g === 'GCN2i'"}],
       "mark": {"type": "point", "filled": true, "size": 30, "opacity": 1, "shape": "square"},
       "encoding": {
        "x": {"field": "x", "type": "quantitative", "axis": null},
        "y": {"field": "v", "type": "quantitative", "axis": {"values": [0, 20, 40, 60, 80, 100, 120], "title": "Cell viability (%)", "titlePadding": 10}},
        "color": {"field": "g", "type": "nominal"}
       }}
     ],
     "resolve": {"axis": {"x": "independent"}}
    }
   ]},
  {"title": {"text": "D", "anchor": "start", "frame": "bounds", "dx": -33, "offset": 5},
   "bounds": "flush",
   "spacing": 75,
   "resolve": {"scale": {"color": "independent", "shape": "independent"}},
   "hconcat": [
    {"width": 102, "height": 101,
     "layer": [
      {"data": {"name": "atp"}, "transform": [{"filter": "datum.p === 'D1'"}],
       "mark": {"type": "line", "strokeWidth": 1.5},
       "encoding": {
        "x": {"field": "day", "type": "ordinal", "scale": {"type": "point", "padding": 0.5, "domain": ["Day 0", "Day 3", "Day 6"]}, "axis": {"title": null, "labelAngle": -45, "labelFontSize": 16}},
        "y": {"field": "v", "type": "quantitative", "scale": {"domain": [0, 1000000], "nice": false}, "axis": {"values": [0, 200000, 400000, 600000, 800000, 1000000], "labelExpr": "datum.value == 0 ? '0' : datum.value == 1000000 ? '1×10⁶' : (datum.value / 100000) + '×10⁵'", "labelFontSize": 16, "title": "ATP (luminecence)", "titleFontSize": 17, "titlePadding": 0}},
        "color": {"field": "cond", "type": "nominal", "scale": {"domain": ["Control", "GCN2i", "ASNase", "A/G"], "range": ["#2b46ea", "#ec2d5a", "#3fe23a", "#9535ef"]}}
       }},
      {"data": {"name": "atp"}, "transform": [{"filter": "datum.p === 'D1' && datum.cond === 'Control'"}],
       "mark": {"type": "point", "filled": true, "size": 26, "opacity": 1, "shape": "circle"},
       "encoding": {
        "x": {"field": "day", "type": "ordinal", "axis": {"title": null, "labelAngle": -45, "labelFontSize": 16}},
        "y": {"field": "v", "type": "quantitative", "axis": {"values": [0, 200000, 400000, 600000, 800000, 1000000], "labelExpr": "datum.value == 0 ? '0' : datum.value == 1000000 ? '1×10⁶' : (datum.value / 100000) + '×10⁵'", "labelFontSize": 16, "title": "ATP (luminecence)", "titleFontSize": 17, "titlePadding": 0}},
        "color": {"field": "cond", "type": "nominal", "legend": {"orient": "none", "legendX": 103, "legendY": 17, "title": null, "symbolSize": 170, "rowPadding": -3, "labelOffset": 4, "labelFontSize": 17, "symbolType": "M-1,0H1M0.38,0A0.38,0.38,0,1,1,-0.38,0A0.38,0.38,0,1,1,0.38,0Z", "symbolStrokeWidth": 1.5, "symbolOpacity": 1}}
       }},
      {"data": {"name": "atp"}, "transform": [{"filter": "datum.p === 'D1' && datum.cond === 'GCN2i'"}],
       "mark": {"type": "point", "filled": true, "size": 26, "opacity": 1, "shape": "square"},
       "encoding": {
        "x": {"field": "day", "type": "ordinal", "axis": {"title": null, "labelAngle": -45, "labelFontSize": 16}},
        "y": {"field": "v", "type": "quantitative", "axis": {"values": [0, 200000, 400000, 600000, 800000, 1000000], "labelExpr": "datum.value == 0 ? '0' : datum.value == 1000000 ? '1×10⁶' : (datum.value / 100000) + '×10⁵'", "labelFontSize": 16, "title": "ATP (luminecence)", "titleFontSize": 17, "titlePadding": 0}},
        "color": {"field": "cond", "type": "nominal"}
       }},
      {"data": {"name": "atp"}, "transform": [{"filter": "datum.p === 'D1' && datum.cond === 'ASNase'"}],
       "mark": {"type": "point", "filled": true, "size": 26, "opacity": 1, "shape": "triangle-up"},
       "encoding": {
        "x": {"field": "day", "type": "ordinal", "axis": {"title": null, "labelAngle": -45, "labelFontSize": 16}},
        "y": {"field": "v", "type": "quantitative", "axis": {"values": [0, 200000, 400000, 600000, 800000, 1000000], "labelExpr": "datum.value == 0 ? '0' : datum.value == 1000000 ? '1×10⁶' : (datum.value / 100000) + '×10⁵'", "labelFontSize": 16, "title": "ATP (luminecence)", "titleFontSize": 17, "titlePadding": 0}},
        "color": {"field": "cond", "type": "nominal"}
       }},
      {"data": {"name": "atp"}, "transform": [{"filter": "datum.p === 'D1' && datum.cond === 'A/G'"}],
       "mark": {"type": "point", "filled": true, "size": 26, "opacity": 1, "shape": "triangle-down"},
       "encoding": {
        "x": {"field": "day", "type": "ordinal", "axis": {"title": null, "labelAngle": -45, "labelFontSize": 16}},
        "y": {"field": "v", "type": "quantitative", "axis": {"values": [0, 200000, 400000, 600000, 800000, 1000000], "labelExpr": "datum.value == 0 ? '0' : datum.value == 1000000 ? '1×10⁶' : (datum.value / 100000) + '×10⁵'", "labelFontSize": 16, "title": "ATP (luminecence)", "titleFontSize": 17, "titlePadding": 0}},
        "color": {"field": "cond", "type": "nominal"}
       }}
     ]},
    {"width": 13, "height": 101,
     "title": {"text": "D̲a̲y̲ ̲6̲", "anchor": "start", "frame": "group", "offset": -18, "dx": 14, "fontSize": 18, "baseline": "bottom"},
     "data": {"name": "sig1"},
     "layer": [
      {"mark": {"type": "rule", "strokeWidth": 1.2, "color": "#333"},
       "encoding": {
        "x": {"datum": "bar", "type": "nominal", "scale": {"type": "point", "domain": ["bar", "txt"], "padding": 0}, "axis": null},
        "y": {"field": "from", "type": "nominal", "bandPosition": 0.2, "scale": {"type": "band", "domain": ["Control", "GCN2i", "ASNase", "A/G"], "paddingInner": 0, "paddingOuter": 1}, "axis": null},
        "y2": {"field": "to", "bandPosition": 0.75}
       }},
      {"transform": [{"filter": "datum.sig !== '*'"}],
       "mark": {"type": "text", "align": "left", "baseline": "middle", "fontSize": 18, "fontStyle": "italic"},
       "encoding": {
        "x": {"datum": "txt", "type": "nominal", "axis": null},
        "y": {"field": "from", "type": "nominal", "bandPosition": 1, "axis": null},
        "text": {"field": "sig"}
       }},
      {"transform": [{"filter": "datum.sig === '*'"}],
       "mark": {"type": "text", "align": "left", "baseline": "middle", "fontSize": 16, "dy": 6},
       "encoding": {
        "x": {"datum": "txt", "type": "nominal", "axis": null},
        "y": {"field": "from", "type": "nominal", "bandPosition": 1, "axis": null},
        "text": {"field": "sig"}
       }}
     ]}
   ]}
 ]},
 {"resolve": {"scale": {"color": "independent", "shape": "independent"}},
  "spacing": 54,
  "hconcat": [
  {"spacing": 18,
   "resolve": {"scale": {"color": "independent", "shape": "independent"}},
   "hconcat": [
    {"width": 78, "height": 100,
     "layer": [
      {"data": {"name": "fit"}, "transform": [{"filter": "datum.cell === 'SU.86.86'"}],
       "mark": {"type": "line", "strokeWidth": 1.5, "interpolate": "monotone"},
       "encoding": {
        "x": {"field": "x", "type": "quantitative", "scale": {"domain": [-6, 0], "nice": false, "range": [-22, 78]}, "axis": {"orient": "bottom", "values": [-6, -4, -2, 0], "labelExpr": "'' + datum.value", "title": "ASNase Log (U/mL)", "titleFontSize": 17, "titlePadding": 10}},
        "y": {"field": "v", "type": "quantitative", "scale": {"domain": [0, 140], "nice": false}, "axis": {"values": [0, 20, 40, 60, 80, 100, 120, 140], "title": "Cell viability (%)", "titlePadding": 10, "offset": 22}},
        "color": {"field": "g", "type": "nominal", "scale": {"domain": ["DMSO", "GCN2i"], "range": ["#2a44e6", "#e62026"]}, "legend": null}
       }},
      {"data": {"name": "viab"}, "transform": [{"filter": "datum.cell === 'SU.86.86'"}],
       "mark": {"type": "errorbar", "ticks": true, "thickness": 1.2},
       "encoding": {
        "x": {"field": "x", "type": "quantitative", "axis": null},
        "y": {"field": "v", "type": "quantitative", "axis": {"values": [0, 20, 40, 60, 80, 100, 120, 140], "title": "Cell viability (%)", "titlePadding": 10, "offset": 22}},
        "yError": {"field": "e"},
        "color": {"field": "g", "type": "nominal", "legend": null}
       }},
      {"data": {"name": "viab"}, "transform": [{"filter": "datum.cell === 'SU.86.86'"}],
       "mark": {"type": "point", "filled": true, "size": 30, "opacity": 1},
       "encoding": {
        "x": {"field": "x", "type": "quantitative", "axis": {"orient": "top", "title": "S̲U̲.̲8̲6̲.̲8̲6̲", "labels": false, "ticks": false, "domain": false, "titlePadding": 33, "titleFontSize": 18, "minExtent": 0}},
        "y": {"field": "v", "type": "quantitative", "axis": {"values": [0, 20, 40, 60, 80, 100, 120, 140], "title": "Cell viability (%)", "titlePadding": 10, "offset": 22}},
        "color": {"field": "g", "type": "nominal", "legend": null},
        "shape": {"field": "g", "type": "nominal", "scale": {"domain": ["DMSO", "GCN2i"], "range": ["circle", "square"]}, "legend": null}
       }}
     ],
     "resolve": {"axis": {"x": "independent"}}
    },
    {"width": 101, "height": 100,
     "layer": [
      {"data": {"name": "fit"}, "transform": [{"filter": "datum.cell === 'KP-4'"}],
       "mark": {"type": "line", "strokeWidth": 1.5, "interpolate": "monotone"},
       "encoding": {
        "x": {"field": "x", "type": "quantitative", "scale": {"domain": [-6, 0], "nice": false}, "axis": {"orient": "bottom", "values": [-6, -4, -2, 0], "labelExpr": "'' + datum.value", "title": "ASNase Log (U/mL)", "titleFontSize": 17, "titlePadding": 10}},
        "y": {"field": "v", "type": "quantitative", "scale": {"domain": [0, 120], "nice": false}, "axis": {"values": [0, 20, 40, 60, 80, 100, 120], "title": "Cell viability (%)", "titlePadding": 10}},
        "color": {"field": "g", "type": "nominal", "scale": {"domain": ["DMSO", "GCN2i"], "range": ["#2a44e6", "#e62026"]}}
       }},
      {"data": {"name": "viab"}, "transform": [{"filter": "datum.cell === 'KP-4'"}],
       "mark": {"type": "errorbar", "ticks": true, "thickness": 1.2},
       "encoding": {
        "x": {"field": "x", "type": "quantitative", "axis": null},
        "y": {"field": "v", "type": "quantitative", "axis": {"values": [0, 20, 40, 60, 80, 100, 120], "title": "Cell viability (%)", "titlePadding": 10}},
        "yError": {"field": "e"},
        "color": {"field": "g", "type": "nominal"}
       }},
      {"data": {"name": "viab"}, "transform": [{"filter": "datum.cell === 'KP-4' && datum.g === 'DMSO'"}],
       "mark": {"type": "point", "filled": true, "size": 30, "opacity": 1, "shape": "circle"},
       "encoding": {
        "x": {"field": "x", "type": "quantitative", "axis": {"orient": "top", "title": "K̲P̲-̲4̲", "labels": false, "ticks": false, "domain": false, "titlePadding": 33, "titleFontSize": 18, "minExtent": 0}},
        "y": {"field": "v", "type": "quantitative", "axis": {"values": [0, 20, 40, 60, 80, 100, 120], "title": "Cell viability (%)", "titlePadding": 10}},
        "color": {"field": "g", "type": "nominal", "legend": {"orient": "none", "legendX": 99, "legendY": 35, "title": null, "symbolSize": 190, "rowPadding": -3, "labelOffset": 4, "symbolType": "M-1,0H1M0.4,0A0.4,0.4,0,1,1,-0.4,0A0.4,0.4,0,1,1,0.4,0Z", "symbolStrokeWidth": 1.5, "symbolOpacity": 1}}
       }},
      {"data": {"name": "viab"}, "transform": [{"filter": "datum.cell === 'KP-4' && datum.g === 'GCN2i'"}],
       "mark": {"type": "point", "filled": true, "size": 30, "opacity": 1, "shape": "square"},
       "encoding": {
        "x": {"field": "x", "type": "quantitative", "axis": null},
        "y": {"field": "v", "type": "quantitative", "axis": {"values": [0, 20, 40, 60, 80, 100, 120], "title": "Cell viability (%)", "titlePadding": 10}},
        "color": {"field": "g", "type": "nominal"}
       }}
     ],
     "resolve": {"axis": {"x": "independent"}}
    }
   ]},
  {"bounds": "flush",
   "spacing": 78,
   "resolve": {"scale": {"color": "independent", "shape": "independent"}},
   "hconcat": [
    {"width": 102, "height": 102,
     "layer": [
      {"data": {"name": "atp"}, "transform": [{"filter": "datum.p === 'D2'"}],
       "mark": {"type": "line", "strokeWidth": 1.5},
       "encoding": {
        "x": {"field": "day", "type": "ordinal", "scale": {"type": "point", "padding": 0.5, "domain": ["Day 0", "Day 3", "Day 6"]}, "axis": {"orient": "bottom", "title": null, "labelAngle": -45, "labelFontSize": 16}},
        "y": {"field": "v", "type": "quantitative", "scale": {"domain": [0, 1000000], "nice": false}, "axis": {"values": [0, 200000, 400000, 600000, 800000, 1000000], "labelExpr": "datum.value == 0 ? '0' : datum.value == 1000000 ? '1×10⁶' : (datum.value / 100000) + '×10⁵'", "labelFontSize": 16, "title": "ATP (luminecence)", "titleFontSize": 17, "titlePadding": 0}},
        "color": {"field": "cond", "type": "nominal", "scale": {"domain": ["Control", "GCN2i", "ASNase", "A/G"], "range": ["#2b46ea", "#ec2d5a", "#3fe23a", "#9535ef"]}}
       }},
      {"data": {"name": "atp"}, "transform": [{"filter": "datum.p === 'D2' && datum.cond === 'A/G'"}],
       "mark": {"type": "point", "filled": true, "size": 26, "opacity": 1, "shape": "triangle-down"},
       "encoding": {
        "x": {"field": "day", "type": "ordinal", "axis": {"orient": "top", "title": "+̲ ̲A̲s̲p̲a̲r̲a̲g̲i̲n̲e̲ ̲(̲x̲1̲0̲)̲", "labels": false, "ticks": false, "domain": false, "titlePadding": 18, "titleFontSize": 18, "minExtent": 0}},
        "y": {"field": "v", "type": "quantitative", "axis": {"values": [0, 200000, 400000, 600000, 800000, 1000000], "labelExpr": "datum.value == 0 ? '0' : datum.value == 1000000 ? '1×10⁶' : (datum.value / 100000) + '×10⁵'", "labelFontSize": 16, "title": "ATP (luminecence)", "titleFontSize": 17, "titlePadding": 0}},
        "color": {"field": "cond", "type": "nominal", "legend": {"orient": "none", "legendX": 103, "legendY": 21, "title": null, "symbolSize": 170, "rowPadding": -3, "labelOffset": 4, "labelFontSize": 17, "symbolType": "M-1,0H1M0.38,0A0.38,0.38,0,1,1,-0.38,0A0.38,0.38,0,1,1,0.38,0Z", "symbolStrokeWidth": 1.5, "symbolOpacity": 1}}
       }},
      {"data": {"name": "atp"}, "transform": [{"filter": "datum.p === 'D2' && datum.cond === 'ASNase'"}],
       "mark": {"type": "point", "filled": true, "size": 26, "opacity": 1, "shape": "triangle-up"},
       "encoding": {
        "x": {"field": "day", "type": "ordinal", "axis": null},
        "y": {"field": "v", "type": "quantitative", "axis": {"values": [0, 200000, 400000, 600000, 800000, 1000000], "labelExpr": "datum.value == 0 ? '0' : datum.value == 1000000 ? '1×10⁶' : (datum.value / 100000) + '×10⁵'", "labelFontSize": 16, "title": "ATP (luminecence)", "titleFontSize": 17, "titlePadding": 0}},
        "color": {"field": "cond", "type": "nominal"}
       }},
      {"data": {"name": "atp"}, "transform": [{"filter": "datum.p === 'D2' && datum.cond === 'Control'"}],
       "mark": {"type": "point", "filled": true, "size": 26, "opacity": 1, "shape": "circle"},
       "encoding": {
        "x": {"field": "day", "type": "ordinal", "axis": null},
        "y": {"field": "v", "type": "quantitative", "axis": {"values": [0, 200000, 400000, 600000, 800000, 1000000], "labelExpr": "datum.value == 0 ? '0' : datum.value == 1000000 ? '1×10⁶' : (datum.value / 100000) + '×10⁵'", "labelFontSize": 16, "title": "ATP (luminecence)", "titleFontSize": 17, "titlePadding": 0}},
        "color": {"field": "cond", "type": "nominal"}
       }},
      {"data": {"name": "atp"}, "transform": [{"filter": "datum.p === 'D2' && datum.cond === 'GCN2i'"}],
       "mark": {"type": "point", "filled": true, "size": 26, "opacity": 1, "shape": "square"},
       "encoding": {
        "x": {"field": "day", "type": "ordinal", "axis": null},
        "y": {"field": "v", "type": "quantitative", "axis": {"values": [0, 200000, 400000, 600000, 800000, 1000000], "labelExpr": "datum.value == 0 ? '0' : datum.value == 1000000 ? '1×10⁶' : (datum.value / 100000) + '×10⁵'", "labelFontSize": 16, "title": "ATP (luminecence)", "titleFontSize": 17, "titlePadding": 0}},
        "color": {"field": "cond", "type": "nominal"}
       }}
     ],
     "resolve": {"axis": {"x": "independent"}}
    },
    {"width": 13, "height": 102,
     "title": {"text": "D̲a̲y̲ ̲6̲", "anchor": "start", "frame": "group", "offset": -21, "dx": 14, "fontSize": 18, "baseline": "bottom"},
     "data": {"name": "sig2"},
     "layer": [
      {"mark": {"type": "rule", "strokeWidth": 1.2, "color": "#333"},
       "encoding": {
        "x": {"datum": "bar", "type": "nominal", "scale": {"type": "point", "domain": ["bar", "txt"], "padding": 0}, "axis": null},
        "y": {"field": "from", "type": "nominal", "bandPosition": 0.2, "scale": {"type": "band", "domain": ["Control", "GCN2i", "ASNase", "A/G"], "paddingInner": 0, "paddingOuter": 1, "align": 0.63}, "axis": null},
        "y2": {"field": "to", "bandPosition": 0.75}
       }},
      {"mark": {"type": "text", "align": "left", "baseline": "middle", "fontSize": 18, "fontStyle": "italic"},
       "encoding": {
        "x": {"datum": "txt", "type": "nominal", "axis": null},
        "y": {"field": "from", "type": "nominal", "bandPosition": 1, "axis": null},
        "text": {"field": "sig"}
       }}
     ]}
   ]}
 ]}
 ]}
]
}
